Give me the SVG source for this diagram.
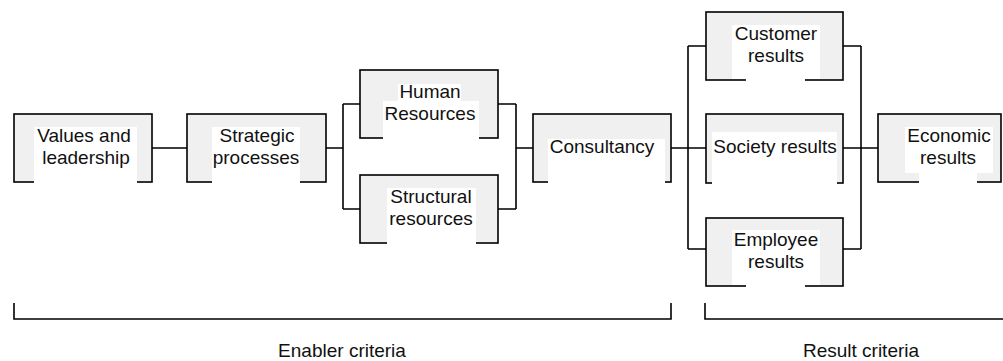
<svg xmlns="http://www.w3.org/2000/svg" width="1003" height="361" viewBox="0 0 1003 361">
<style>
.box{fill:#f0f0f0;stroke:#000;stroke-width:1.6}
.wp{fill:#fff}
.t{font-family:"Liberation Sans",Arial,sans-serif;font-size:19px;fill:#111;text-anchor:middle}
.ln{fill:none;stroke:#000;stroke-width:1.6}
</style>
<rect width="1003" height="361" fill="#fff"/>
<g id="connectors">
<path class="ln" d="M152,148H187 M326,148H343 M343,104V209 M343,104H360 M343,209H360 M498,104H516 M498,209H516 M516,104V209 M516,148H533 M671,148H688 M688,46V249 M688,46H706 M688,148H706 M688,249H706 M843,46H861 M843,148H861 M843,249H861 M861,46V249 M861,148H878"/>
</g>
<g id="values">
<rect class="box" x="14" y="114" width="138" height="68"/>
<rect class="wp" x="34" y="127" width="103" height="57"/>
<text class="t" x="84" y="142">Values and</text>
<text class="t" x="86" y="164">leadership</text>
</g>
<g id="strategic">
<rect class="box" x="187" y="114" width="139" height="68"/>
<rect class="wp" x="212" y="127" width="88" height="57"/>
<text class="t" x="257" y="142">Strategic</text>
<text class="t" x="256" y="164">processes</text>
</g>
<g id="human">
<rect class="box" x="360" y="70" width="138" height="68"/>
<rect class="wp" x="398" y="84" width="63" height="18"/>
<rect class="wp" x="383" y="101" width="96" height="39"/>
<text class="t" x="430" y="98">Human</text>
<text class="t" x="430" y="120">Resources</text>
</g>
<g id="structural">
<rect class="box" x="360" y="175" width="138" height="68"/>
<rect class="wp" x="387" y="188" width="89" height="57"/>
<text class="t" x="431" y="203">Structural</text>
<text class="t" x="431" y="225">resources</text>
</g>
<g id="consultancy">
<rect class="box" x="533" y="114" width="138" height="68"/>
<rect class="wp" x="548" y="139" width="117" height="45"/>
<text class="t" x="602" y="153">Consultancy</text>
</g>
<g id="customer">
<rect class="box" x="706" y="12" width="137" height="68"/>
<rect class="wp" x="732" y="25" width="88" height="54"/>
<rect class="wp" x="746" y="70" width="59" height="12"/>
<text class="t" x="776" y="40">Customer</text>
<text class="t" x="776" y="62">results</text>
</g>
<g id="society">
<rect class="box" x="706" y="114" width="137" height="69"/>
<rect class="wp" x="712" y="132" width="125" height="53"/>
<text class="t" x="775" y="153">Society results</text>
</g>
<g id="employee">
<rect class="box" x="706" y="218" width="137" height="68"/>
<rect class="wp" x="732" y="230" width="88" height="55"/>
<rect class="wp" x="746" y="270" width="59" height="18"/>
<text class="t" x="776" y="246">Employee</text>
<text class="t" x="776" y="268">results</text>
</g>
<g id="economic">
<rect class="box" x="878" y="114" width="123" height="68"/>
<rect class="wp" x="905" y="127" width="88" height="46"/>
<rect class="wp" x="919" y="170" width="58" height="14"/>
<text class="t" x="949" y="142">Economic</text>
<text class="t" x="948" y="164">results</text>
</g>
<g id="brackets">
<path class="ln" d="M14,303V319H671V303 M705,303V319H1004"/>
<text class="t" x="342" y="357">Enabler criteria</text>
<text class="t" x="861" y="357">Result criteria</text>
</g>
</svg>
